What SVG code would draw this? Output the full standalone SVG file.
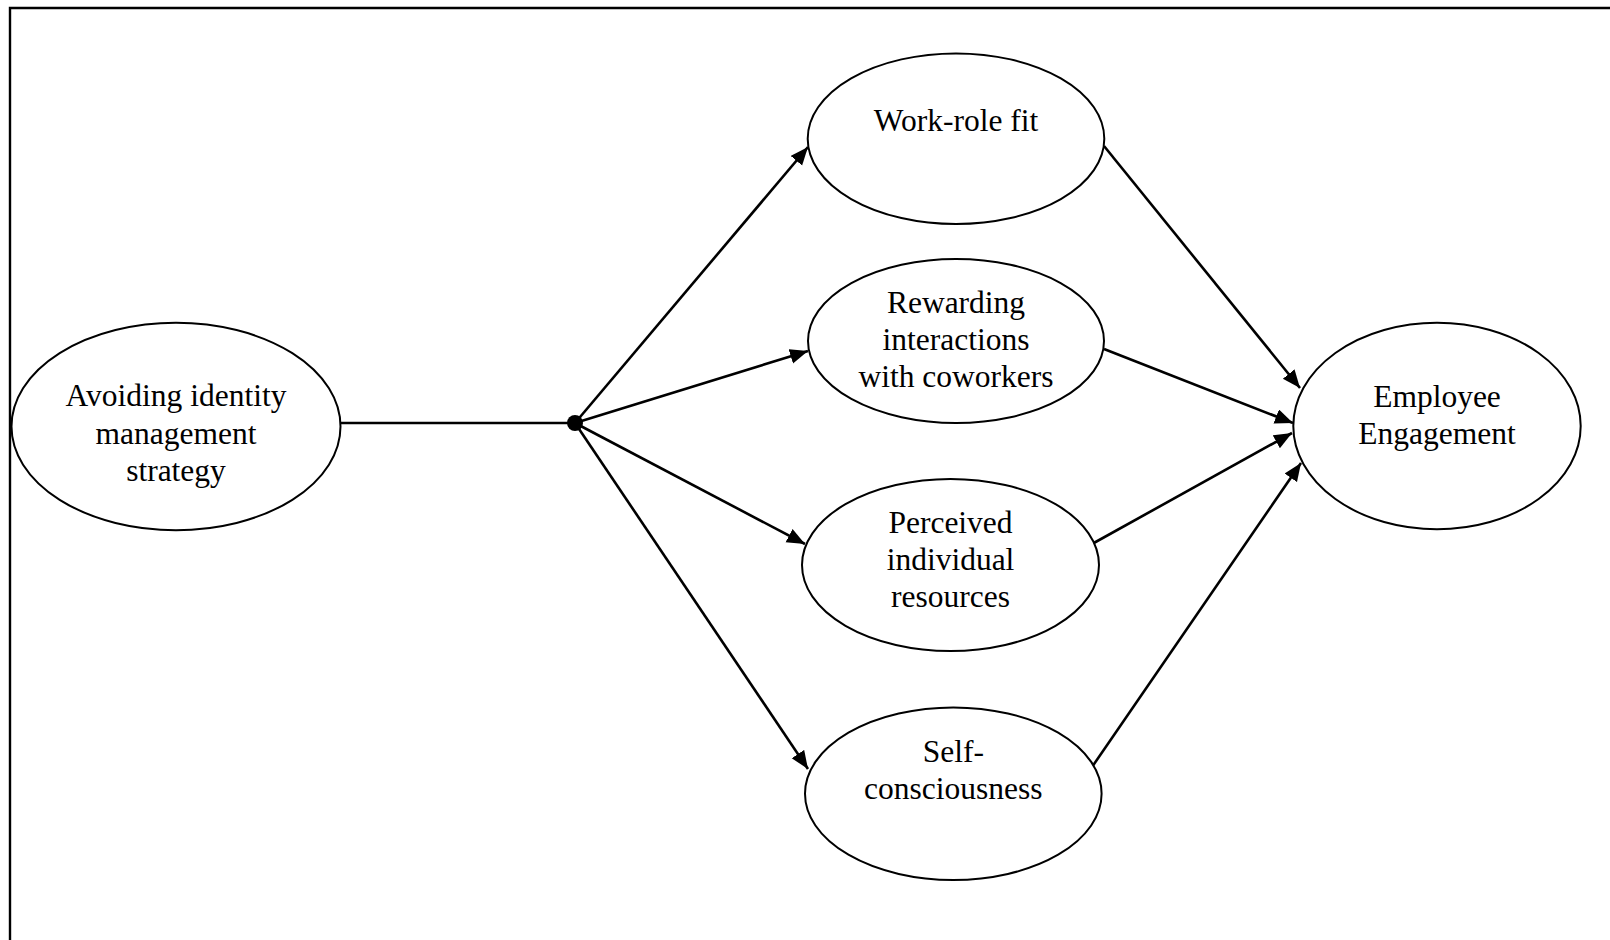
<svg xmlns="http://www.w3.org/2000/svg" width="1610" height="940" viewBox="0 0 1610 940">
<style>
.node ellipse{fill:#fff;stroke:#000;stroke-width:2}
.node text{font-family:"Liberation Serif","Times New Roman",serif;font-size:31.5px;fill:#000;text-anchor:middle}
.conn line{stroke:#000;stroke-width:2.6;fill:none}
.arr{marker-end:url(#ah)}
</style>
<defs>
<marker id="ah" markerUnits="userSpaceOnUse" markerWidth="20" markerHeight="16" refX="18" refY="7.5" orient="auto">
<path d="M0,0 L18,7.5 L0,15 z" fill="#000"/>
</marker>
</defs>
<rect width="1610" height="940" fill="#fff"/>
<g id="frame">
<path d="M10,940 L10,8 L1612,8" fill="none" stroke="#000" stroke-width="2.4"/>
</g>
<g class="conn" id="connectors">
<line x1="341" y1="423" x2="575" y2="423"/>
<line class="arr" x1="575" y1="423" x2="808" y2="147"/>
<line class="arr" x1="575" y1="423" x2="808" y2="351"/>
<line class="arr" x1="575" y1="423" x2="805" y2="544"/>
<line class="arr" x1="575" y1="423" x2="808" y2="769"/>
<line class="arr" x1="1104" y1="146" x2="1300" y2="388"/>
<line class="arr" x1="1104" y1="349" x2="1293" y2="423"/>
<line class="arr" x1="1092" y1="544" x2="1292" y2="433"/>
<line class="arr" x1="1092" y1="767" x2="1301" y2="463"/>
<circle cx="575" cy="423" r="8" fill="#000"/>
</g>
<g class="node" id="avoiding">
<ellipse cx="176" cy="426.5" rx="164.5" ry="103.7"/>
<text x="176" y="406">Avoiding identity</text>
<text x="176" y="443.5">management</text>
<text x="176" y="481">strategy</text>
</g>
<g class="node" id="workrole">
<ellipse cx="956" cy="138.7" rx="148.3" ry="85.3"/>
<text x="956" y="130.5">Work-role fit</text>
</g>
<g class="node" id="rewarding">
<ellipse cx="956" cy="341" rx="148" ry="82"/>
<text x="956" y="313">Rewarding</text>
<text x="956" y="350">interactions</text>
<text x="956" y="387">with coworkers</text>
</g>
<g class="node" id="perceived">
<ellipse cx="950.5" cy="565" rx="148.5" ry="86"/>
<text x="950.5" y="533">Perceived</text>
<text x="950.5" y="570">individual</text>
<text x="950.5" y="607">resources</text>
</g>
<g class="node" id="selfc">
<ellipse cx="953.3" cy="793.7" rx="148.3" ry="86.3"/>
<text x="953.3" y="761.5">Self-</text>
<text x="953.3" y="798.5">consciousness</text>
</g>
<g class="node" id="engagement">
<ellipse cx="1437" cy="426" rx="143.7" ry="103.3"/>
<text x="1437" y="407.3">Employee</text>
<text x="1437" y="444">Engagement</text>
</g>
</svg>
